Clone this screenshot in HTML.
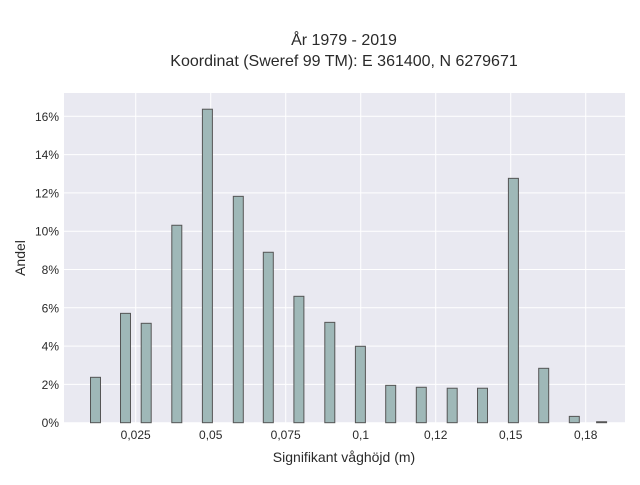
<!DOCTYPE html>
<html><head><meta charset="utf-8"><style>
body{margin:0;background:#fff;}
svg text{font-family:"Liberation Sans",sans-serif;fill:#2a2a2a;}
</style></head><body>
<svg id="chart" width="640" height="480" xmlns="http://www.w3.org/2000/svg">
<text x="344" y="45" text-anchor="middle" font-size="16">År 1979 - 2019</text>
<text x="344" y="66" text-anchor="middle" font-size="16">Koordinat (Sweref 99 TM): E 361400, N 6279671</text>
<rect x="64" y="93" width="561" height="330" fill="#e9e9f1"/>
<g id="grid"></g>
<g id="bars"></g>
<g id="ticks"></g>
<text x="344" y="462" text-anchor="middle" font-size="14">Signifikant våghöjd (m)</text>
<text transform="translate(25,258) rotate(-90)" text-anchor="middle" font-size="14">Andel</text>
</svg>
<script>
const binCenters=[0.0116,0.0216,0.0285,0.0387,0.0489,0.0592,0.0692,0.0794,0.0897,0.0999,0.110,0.1202,0.1305,0.1406,0.1509,0.161,0.1712,0.1803];
const shares=[2.37,5.71,5.19,10.31,16.37,11.82,8.90,6.60,5.24,3.99,1.95,1.85,1.80,1.80,12.76,2.84,0.33,0.05];
const xTickValues=[0.025,0.05,0.075,0.1,0.125,0.15,0.175];
const xTickLabels=["0,025","0,05","0,075","0,1","0,12","0,15","0,18"];
const yTickValues=[0,2,4,6,8,10,12,14,16];
const yTickLabels=["0%","2%","4%","6%","8%","10%","12%","14%","16%"];
const NS="http://www.w3.org/2000/svg";
function xs(v){return 135.7+(v-0.025)*3000;}
function ys(p){return 422.7-p*19.15;}
const grid=document.getElementById('grid'),bars=document.getElementById('bars'),ticks=document.getElementById('ticks');
function mk(tag,attrs,parent){const e=document.createElementNS(NS,tag);for(const k in attrs)e.setAttribute(k,attrs[k]);parent.appendChild(e);return e;}
yTickValues.forEach((v,i)=>{
  const l=mk('line',{x1:64,x2:625,y1:ys(v),y2:ys(v),stroke:'#fff','stroke-width':1},grid);
  
  
  const t=mk('text',{x:59,y:ys(v)+4.5,'text-anchor':'end','font-size':12},ticks);
  t.textContent=yTickLabels[i];
  
  
});
xTickValues.forEach((v,i)=>{
  const l=mk('line',{x1:xs(v),x2:xs(v),y1:93,y2:423,stroke:'#fff','stroke-width':1},grid);
  
  
  const t=mk('text',{x:xs(v),y:439,'text-anchor':'middle','font-size':12},ticks);
  t.textContent=xTickLabels[i];
  
  
});
const bw=0.00333*3000;
binCenters.forEach((c,i)=>{
  const y=ys(shares[i]);
  const r=mk('rect',{x:xs(c)-bw/2,y:y,width:bw,height:Math.max(422.7-y,0.3),fill:'#9fb8b8',stroke:'#555','stroke-width':1},bars);
  
  
});
</script>
</body></html>
